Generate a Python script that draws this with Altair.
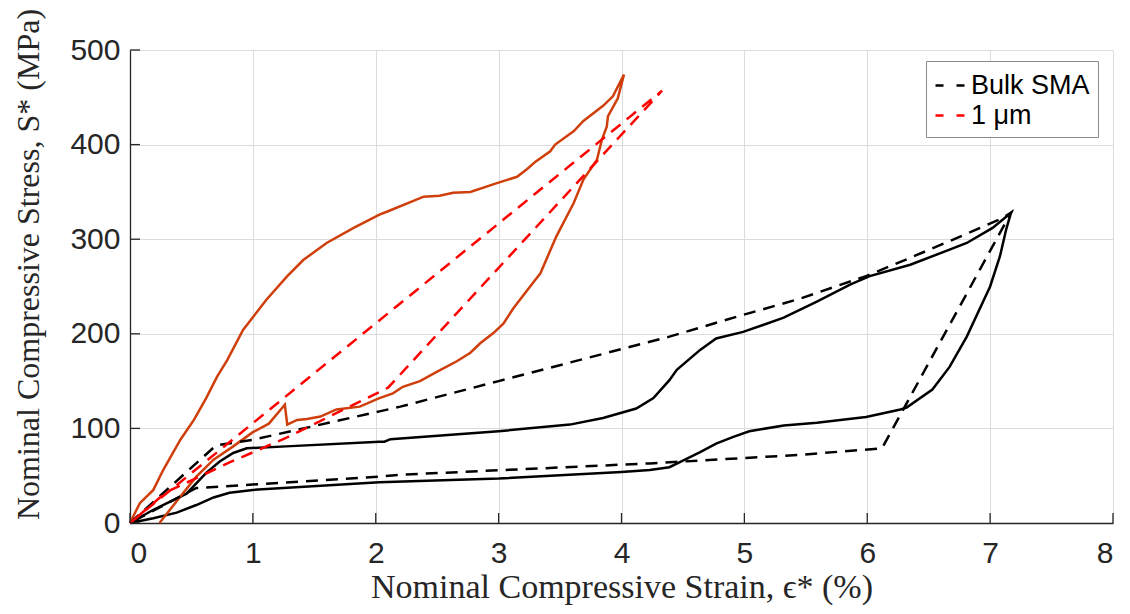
import altair as alt
import pandas as pd

# ---- data ----
bulk_exp_x = [0, 0.19, 0.46, 0.62, 0.73, 0.84, 0.95, 1.27, 2.03, 2.07, 2.12, 3.0, 3.58, 3.85, 4.12, 4.26, 4.39,
              4.45, 4.64, 4.77, 4.99, 5.32, 5.59, 5.86, 6.02, 6.35, 6.67, 6.81, 7.02, 7.17,
              7.13, 7.08, 7.0, 6.81, 6.67, 6.53, 6.32, 6.27, 5.99, 5.59, 5.32, 5.04, 4.91, 4.77, 4.64,
              4.50, 4.39, 4.23, 4.0, 3.0, 2.03, 1.0, 0.81, 0.68, 0.54, 0.38, 0.19, 0]
bulk_exp_y = [0, 14, 31, 53, 65, 74, 79, 81, 86, 86, 88.6, 97, 104, 111, 121, 132, 151,
              162, 183, 195, 202, 217, 234, 252, 261, 273, 289, 296, 312, 328,
              310, 282, 250, 197, 165, 141, 122, 120, 112, 106, 103, 97, 91, 84, 75,
              66, 59, 56, 54, 47, 43, 35, 32, 27, 19, 11, 5, 0]

bulk_mod_x = [0, 0.7, 1.0, 2.03, 2.2, 3.0, 4.39, 4.99, 5.45, 5.99, 6.27, 6.67, 7.08, 7.17,
              6.12, 5.45, 4.23, 2.2, 2.03, 0.54, 0]
bulk_mod_y = [0, 82, 88, 118, 123, 150, 197, 220, 237, 261, 276, 298, 321, 328,
              79, 72, 63, 51, 49, 37, 0]

um_exp_x = [0, 0.08, 0.19, 0.27, 0.41, 0.52, 0.62, 0.71, 0.79, 0.92, 1.11, 1.28, 1.41, 1.60, 1.82, 2.03,
            2.09, 2.39, 2.52, 2.63, 2.77, 2.98, 3.15, 3.23, 3.30, 3.42, 3.46, 3.61, 3.69, 3.85, 3.93, 4.02,
            3.97, 3.89, 3.88, 3.84, 3.80, 3.69, 3.61, 3.47, 3.34, 3.28, 3.12, 3.04, 2.96, 2.85, 2.77,
            2.66, 2.50, 2.36, 2.22, 2.14, 2.03, 1.87, 1.68, 1.55, 1.44, 1.36, 1.28, 1.26, 1.13, 1.0,
            0.84, 0.68, 0.54, 0.41, 0.24]
um_exp_y = [0, 21, 35, 56, 88, 109, 132, 155, 172, 204, 236, 261, 278, 296, 312, 326,
            329, 345, 346, 349, 350, 359, 366, 374, 382, 393, 400, 414, 425, 441, 451, 474,
            449, 430, 419, 405, 384, 363, 338, 303, 264, 254, 227, 211, 201, 190, 180,
            171, 160, 150, 144, 137, 132, 123, 120, 112.5, 110, 109, 104, 125, 105, 96,
            81, 67, 49, 28, 0]

um_mod_x = [0, 4.33, 2.1, 1.27, 0.81, 0.5, 0.3, 0]
um_mod_y = [0, 457, 143, 90, 64, 45, 33, 0]

x_ticks = [0, 1, 2, 3, 4, 5, 6, 7, 8]
y_ticks = [0, 100, 200, 300, 400, 500]

SERIES_BULK = "Bulk SMA"
SERIES_UM = "1 μm"
ORANGE = "#CF3F0C"

def path(xs, ys, series):
    return pd.DataFrame({"x": xs, "y": ys, "i": range(len(xs)), "series": series})

df_bulk_exp = path(bulk_exp_x, bulk_exp_y, SERIES_BULK)
df_um_exp = path(um_exp_x, um_exp_y, SERIES_UM)
df_models = pd.concat([path(bulk_mod_x, bulk_mod_y, SERIES_BULK),
                       path(um_mod_x, um_mod_y, SERIES_UM)])

W, H = 983, 473
LW = 2.5
xs = alt.Scale(domain=[0, 8], nice=False, zero=False)
ys = alt.Scale(domain=[0, 500], nice=False, zero=False)

xenc = alt.X("x:Q", scale=xs, axis=alt.Axis(values=x_ticks, title="Nominal Compressive Strain, ϵ* (%)",
                                             format="d", titleFontSize=34, titlePadding=2))
yenc = alt.Y("y:Q", scale=ys, axis=alt.Axis(values=y_ticks, title="Nominal Compressive Stress, S* (MPa)",
                                             format="d", titleFontSize=32, titlePadding=24, titleY=214))

base = alt.Chart(df_bulk_exp).mark_line(color="black", strokeWidth=LW).encode(
    x=xenc, y=yenc, order="i:Q")

um_exp = alt.Chart(df_um_exp).mark_line(color=ORANGE, strokeWidth=LW).encode(
    x=alt.X("x:Q", scale=xs), y=alt.Y("y:Q", scale=ys), order="i:Q")

models = alt.Chart(df_models).mark_line(strokeWidth=LW, strokeDash=[12, 8]).encode(
    x=alt.X("x:Q", scale=xs), y=alt.Y("y:Q", scale=ys), order="i:Q",
    detail="series:N",
    color=alt.Color("series:N", title=None,
                    scale=alt.Scale(domain=[SERIES_BULK, SERIES_UM], range=["black", "red"]),
                    sort=[SERIES_BULK, SERIES_UM],
                    legend=alt.Legend(orient="none", legendX=796, legendY=11,
                                      fillColor="white", strokeColor="#8a8a8a", padding=8,
                                      labelFont="Liberation Sans", labelFontSize=27,
                                      labelColor="black", labelOffset=4,
                                      symbolType="stroke", symbolSize=900,
                                      symbolStrokeWidth=2.5, symbolDash=[8, 13],
                                      rowPadding=0)))

df_xt = pd.DataFrame({"x": x_ticks})
df_yt = pd.DataFrame({"y": y_ticks})
xtick_marks = alt.Chart(df_xt).mark_rule(color="#262626", strokeWidth=1.3).encode(
    x=alt.X("x:Q", scale=xs), y=alt.value(H), y2=alt.value(H - 10))
ytick_marks = alt.Chart(df_yt).mark_rule(color="#262626", strokeWidth=1.3).encode(
    y=alt.Y("y:Q", scale=ys), x=alt.value(0), x2=alt.value(10))

chart = alt.layer(base, um_exp, models, xtick_marks, ytick_marks).properties(
    width=W, height=H,
    padding={"left": 130, "top": 50, "right": 17, "bottom": 91},
    autosize=alt.AutoSizeParams(type="none"),
    background="white",
).configure_view(stroke=None).configure_axis(
    grid=True, gridColor="#dcdcdc", gridWidth=1,
    domainColor="#262626", domainWidth=1.3,
    tickSize=0,
    labelFont="Liberation Sans", labelFontSize=30, labelColor="#262626",
    titleFont="Liberation Serif", titleColor="#262626", titleFontWeight="normal",
).configure_axisX(labelPadding=15).configure_axisY(labelPadding=10)

chart.save("out.html", embed_options={"renderer": "svg", "actions": False})
